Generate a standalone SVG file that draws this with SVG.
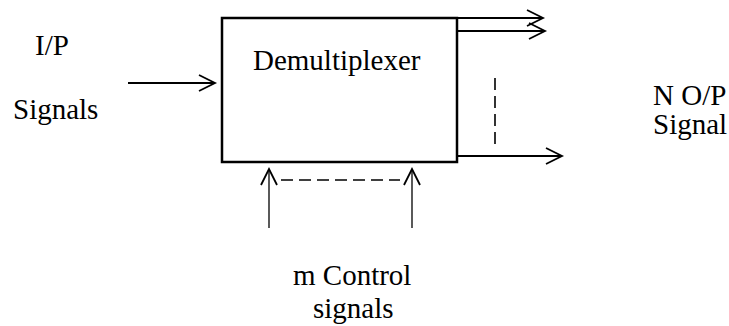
<svg xmlns="http://www.w3.org/2000/svg" width="729" height="326" viewBox="0 0 729 326">
  <style>
    .lbl { font-family: 'Liberation Serif', 'Times New Roman', Times, 'DejaVu Serif', serif; font-size: 29px; fill: #000; }
    .box { fill: #fff; stroke: #000; stroke-width: 2.5; }
    .arr { stroke: #000; stroke-width: 1.8; fill: none; marker-end: url(#head); }
    .carr { stroke: #000; stroke-width: 1.3; fill: none; marker-end: url(#head); }
    .dash { stroke: #000; stroke-width: 1.6; fill: none; stroke-dasharray: 12 6; }
  </style>
  <defs>
    <marker id="head" viewBox="0 0 18 18" refX="17" refY="9" markerWidth="18" markerHeight="18" markerUnits="userSpaceOnUse" orient="auto" overflow="visible">
      <path d="M1,1 L17,9 L1,17" fill="none" stroke="#000" stroke-width="1.8"/>
    </marker>
  </defs>
  <rect width="729" height="326" fill="#fff"/>

  <g id="demux">
    <rect class="box" x="222" y="18" width="235" height="144"/>
    <text class="lbl" font-family="Liberation Serif, serif" x="253" y="70">Demultiplexer</text>
  </g>

  <g id="input-label">
    <text class="lbl" font-family="Liberation Serif, serif" x="35" y="55">I/P</text>
    <text class="lbl" font-family="Liberation Serif, serif" x="13" y="119">Signals</text>
  </g>

  <g id="output-label">
    <text class="lbl" font-family="Liberation Serif, serif" x="653" y="105">N O/P</text>
    <text class="lbl" font-family="Liberation Serif, serif" x="653" y="134">Signal</text>
  </g>

  <g id="control-label">
    <text class="lbl" font-family="Liberation Serif, serif" x="293" y="285">m Control</text>
    <text class="lbl" font-family="Liberation Serif, serif" x="313" y="318">signals</text>
  </g>

  <g id="connectors">
    <line class="arr" x1="128" y1="83" x2="215" y2="83"/>
    <line class="arr" x1="457" y1="18" x2="543" y2="18"/>
    <line class="arr" x1="457" y1="31" x2="545" y2="31"/>
    <line class="arr" x1="457" y1="156" x2="562" y2="156"/>
    <line class="dash" x1="495" y1="78" x2="495" y2="144"/>
    <line class="carr" x1="269" y1="228" x2="269" y2="169"/>
    <line class="carr" x1="412" y1="228" x2="412" y2="169"/>
    <line class="dash" x1="281" y1="180" x2="400" y2="180"/>
  </g>
</svg>
